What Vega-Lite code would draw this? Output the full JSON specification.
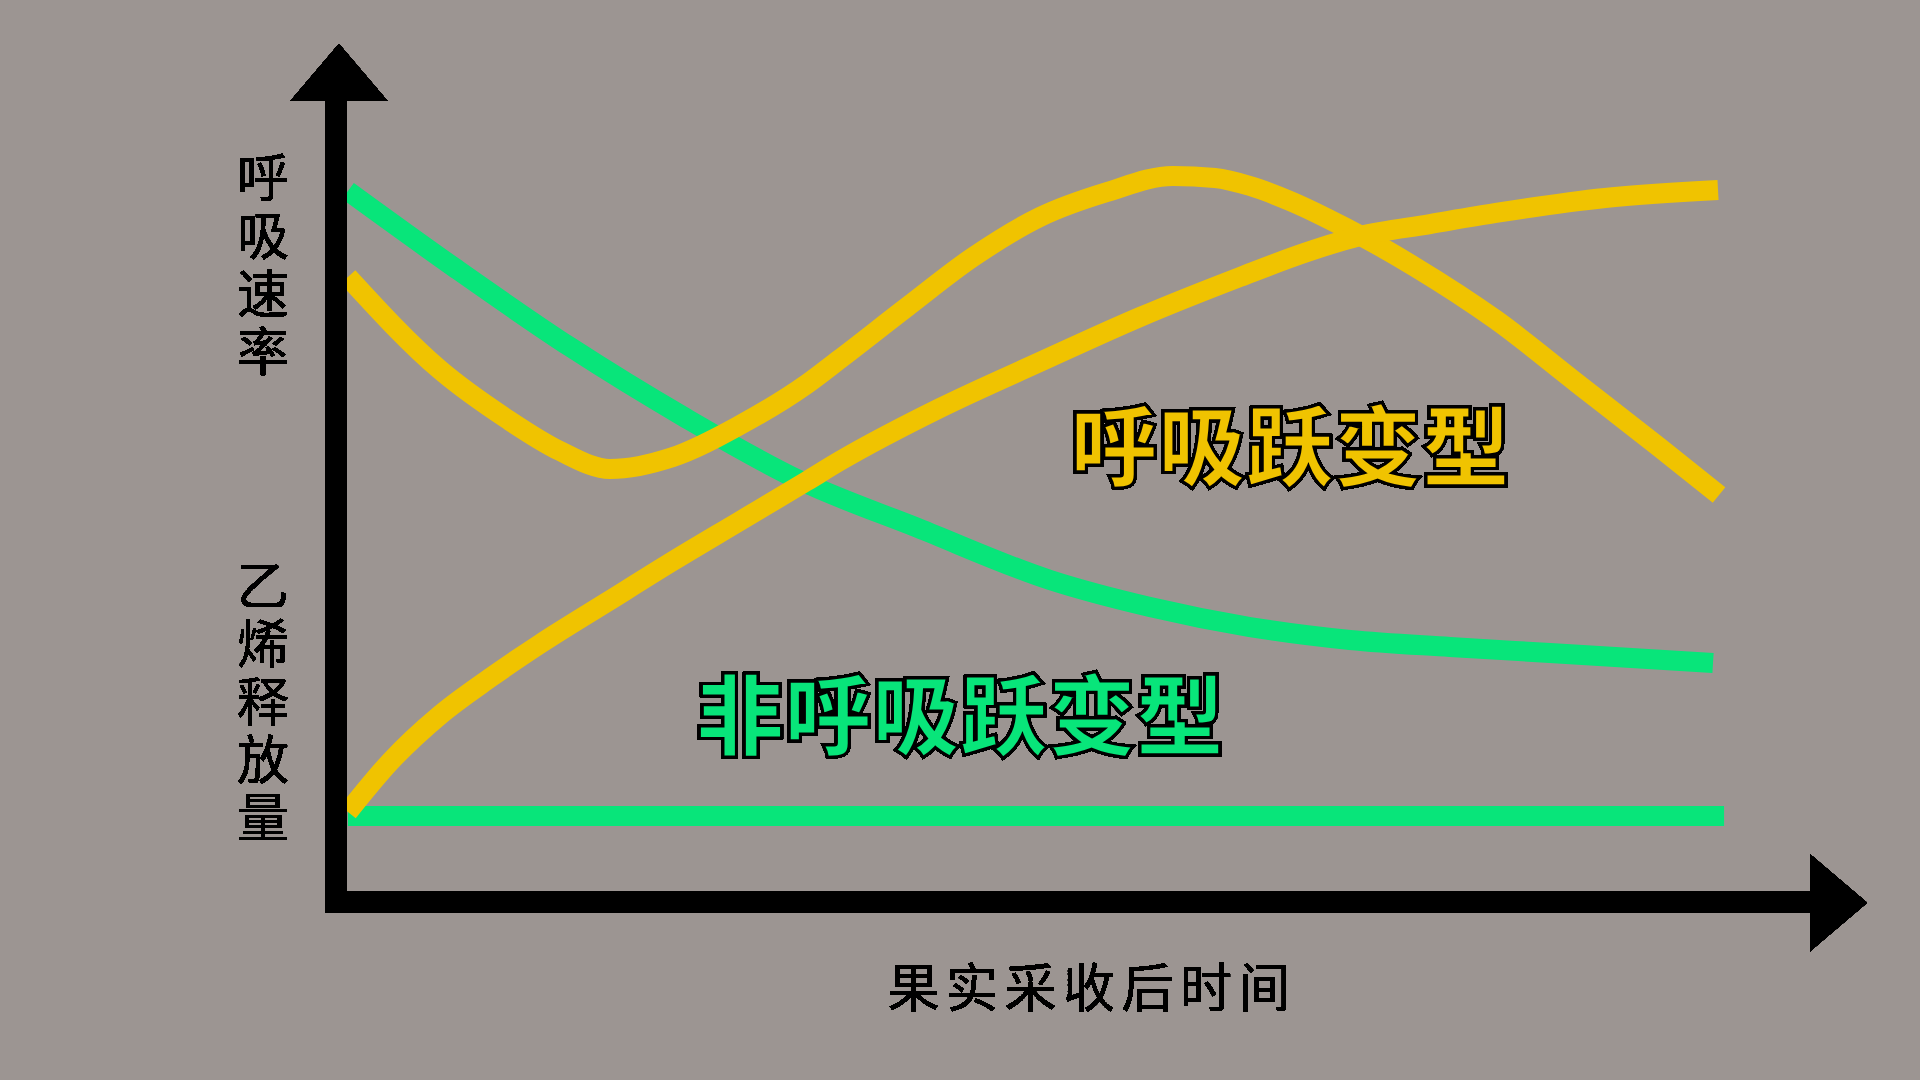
{
  "$schema": "https://vega.github.io/schema/vega-lite/v6.json",
  "width": 1474,
  "height": 801,
  "autosize": {"type": "none"},
  "padding": {"left": 336, "top": 101, "right": 110, "bottom": 178},
  "background": "#9c9592",
  "config": {
    "view": {"stroke": null},
    "font": "Noto Sans CJK SC"
  },
  "data": {
    "values": [
      {"curve": "respiration_non", "group": "non", "t": 0.81, "v": 88.76},
      {"curve": "respiration_non", "group": "non", "t": 8.07, "v": 79.15},
      {"curve": "respiration_non", "group": "non", "t": 15.88, "v": 69.29},
      {"curve": "respiration_non", "group": "non", "t": 23.61, "v": 60.55},
      {"curve": "respiration_non", "group": "non", "t": 31.41, "v": 52.68},
      {"curve": "respiration_non", "group": "non", "t": 39.48, "v": 46.69},
      {"curve": "respiration_non", "group": "non", "t": 48.44, "v": 40.2},
      {"curve": "respiration_non", "group": "non", "t": 55.22, "v": 36.83},
      {"curve": "respiration_non", "group": "non", "t": 62.01, "v": 34.33},
      {"curve": "respiration_non", "group": "non", "t": 68.79, "v": 32.71},
      {"curve": "respiration_non", "group": "non", "t": 75.58, "v": 31.84},
      {"curve": "respiration_non", "group": "non", "t": 82.36, "v": 31.09},
      {"curve": "respiration_non", "group": "non", "t": 93.42, "v": 29.84},
      {"curve": "ethylene_non", "group": "non", "t": 0.81, "v": 10.74},
      {"curve": "ethylene_non", "group": "non", "t": 94.17, "v": 10.74},
      {"curve": "respiration_cl", "group": "cl", "t": 0.81, "v": 78.03},
      {"curve": "respiration_cl", "group": "cl", "t": 7.06, "v": 66.42},
      {"curve": "respiration_cl", "group": "cl", "t": 11.6, "v": 60.3},
      {"curve": "respiration_cl", "group": "cl", "t": 15.2, "v": 56.3},
      {"curve": "respiration_cl", "group": "cl", "t": 18.59, "v": 54.06},
      {"curve": "respiration_cl", "group": "cl", "t": 22.86, "v": 55.56},
      {"curve": "respiration_cl", "group": "cl", "t": 27.41, "v": 59.55},
      {"curve": "respiration_cl", "group": "cl", "t": 31.95, "v": 64.67},
      {"curve": "respiration_cl", "group": "cl", "t": 34.19, "v": 67.79},
      {"curve": "respiration_cl", "group": "cl", "t": 38.74, "v": 74.28},
      {"curve": "respiration_cl", "group": "cl", "t": 43.22, "v": 80.52},
      {"curve": "respiration_cl", "group": "cl", "t": 47.76, "v": 85.52},
      {"curve": "respiration_cl", "group": "cl", "t": 52.31, "v": 88.64},
      {"curve": "respiration_cl", "group": "cl", "t": 56.78, "v": 90.64},
      {"curve": "respiration_cl", "group": "cl", "t": 59.63, "v": 90.39},
      {"curve": "respiration_cl", "group": "cl", "t": 62.01, "v": 89.39},
      {"curve": "respiration_cl", "group": "cl", "t": 64.72, "v": 87.52},
      {"curve": "respiration_cl", "group": "cl", "t": 68.39, "v": 84.27},
      {"curve": "respiration_cl", "group": "cl", "t": 73.2, "v": 79.28},
      {"curve": "respiration_cl", "group": "cl", "t": 78.7, "v": 72.66},
      {"curve": "respiration_cl", "group": "cl", "t": 84.19, "v": 64.79},
      {"curve": "respiration_cl", "group": "cl", "t": 89.76, "v": 56.8},
      {"curve": "respiration_cl", "group": "cl", "t": 93.83, "v": 50.81},
      {"curve": "ethylene_cl", "group": "cl", "t": 0.81, "v": 11.24},
      {"curve": "ethylene_cl", "group": "cl", "t": 3.66, "v": 17.48},
      {"curve": "ethylene_cl", "group": "cl", "t": 7.06, "v": 23.35},
      {"curve": "ethylene_cl", "group": "cl", "t": 10.45, "v": 27.97},
      {"curve": "ethylene_cl", "group": "cl", "t": 13.84, "v": 32.21},
      {"curve": "ethylene_cl", "group": "cl", "t": 18.39, "v": 37.45},
      {"curve": "ethylene_cl", "group": "cl", "t": 22.86, "v": 42.57},
      {"curve": "ethylene_cl", "group": "cl", "t": 27.41, "v": 47.57},
      {"curve": "ethylene_cl", "group": "cl", "t": 31.95, "v": 52.56},
      {"curve": "ethylene_cl", "group": "cl", "t": 34.19, "v": 55.06},
      {"curve": "ethylene_cl", "group": "cl", "t": 40.98, "v": 61.67},
      {"curve": "ethylene_cl", "group": "cl", "t": 47.76, "v": 67.42},
      {"curve": "ethylene_cl", "group": "cl", "t": 54.55, "v": 73.03},
      {"curve": "ethylene_cl", "group": "cl", "t": 61.33, "v": 78.03},
      {"curve": "ethylene_cl", "group": "cl", "t": 65.88, "v": 81.15},
      {"curve": "ethylene_cl", "group": "cl", "t": 69.47, "v": 83.15},
      {"curve": "ethylene_cl", "group": "cl", "t": 74.22, "v": 84.64},
      {"curve": "ethylene_cl", "group": "cl", "t": 78.7, "v": 86.02},
      {"curve": "ethylene_cl", "group": "cl", "t": 86.09, "v": 87.89},
      {"curve": "ethylene_cl", "group": "cl", "t": 93.76, "v": 88.89}
    ]
  },
  "layer": [
    {
      "transform": [{"filter": "datum.group == 'non'"}],
      "mark": {"type": "line", "interpolate": "monotone", "strokeWidth": 20, "color": "#08e57a"},
      "encoding": {
        "x": {"field": "t", "type": "quantitative", "scale": {"domain": [0, 100], "nice": false}, "axis": null},
        "y": {"field": "v", "type": "quantitative", "scale": {"domain": [0, 100], "nice": false}, "axis": null},
        "detail": {"field": "curve"}
      }
    },
    {
      "transform": [{"filter": "datum.group == 'cl'"}],
      "mark": {"type": "line", "interpolate": "monotone", "strokeWidth": 20, "color": "#f0c300"},
      "encoding": {
        "x": {"field": "t", "type": "quantitative", "axis": null},
        "y": {"field": "v", "type": "quantitative", "axis": null},
        "detail": {"field": "curve"}
      }
    },
    {
      "mark": {"type": "rule", "color": "black", "strokeWidth": 21, "strokeCap": "square"},
      "encoding": {
        "x": {"datum": 0, "type": "quantitative", "axis": null},
        "y": {"datum": 0, "type": "quantitative", "axis": null},
        "y2": {"datum": 100}
      }
    },
    {
      "mark": {"type": "rule", "color": "black", "strokeWidth": 21, "strokeCap": "square"},
      "encoding": {
        "x": {"datum": 0, "type": "quantitative", "axis": null},
        "x2": {"datum": 100},
        "y": {"datum": 0, "type": "quantitative", "axis": null}
      }
    },
    {
      "mark": {"type": "point", "shape": "M-1,0L1,0L0,-1.175Z", "size": 9409, "filled": true, "color": "black", "opacity": 1, "strokeWidth": 0},
      "encoding": {
        "x": {"datum": 0.2, "type": "quantitative", "axis": null},
        "y": {"datum": 100, "type": "quantitative", "axis": null}
      }
    },
    {
      "mark": {"type": "point", "shape": "M0,-1L0,1L1.175,0Z", "size": 9409, "filled": true, "color": "black", "opacity": 1, "strokeWidth": 0},
      "encoding": {
        "x": {"datum": 100, "type": "quantitative", "axis": null},
        "y": {"datum": -0.1, "type": "quantitative", "axis": null}
      }
    },
    {
      "mark": {"type": "text", "text": ["呼", "吸", "速", "率"], "font": "Noto Sans CJK SC", "fontSize": 52, "lineHeight": 58, "align": "center", "baseline": "top", "color": "black"},
      "encoding": {
        "x": {"datum": -4.95, "type": "quantitative", "axis": null},
        "y": {"datum": 93.13, "type": "quantitative", "axis": null}
      }
    },
    {
      "mark": {"type": "text", "text": ["乙", "烯", "释", "放", "量"], "font": "Noto Sans CJK SC", "fontSize": 52, "lineHeight": 58, "align": "center", "baseline": "top", "color": "black"},
      "encoding": {
        "x": {"datum": -4.95, "type": "quantitative", "axis": null},
        "y": {"datum": 42.2, "type": "quantitative", "axis": null}
      }
    },
    {
      "mark": {"type": "text", "text": "果\u200a\u200a实\u200a\u200a采\u200a\u200a收\u200a\u200a后\u200a\u200a时\u200a\u200a间", "font": "Noto Sans CJK SC", "fontSize": 52, "align": "center", "baseline": "middle", "color": "black"},
      "encoding": {
        "x": {"datum": 51.09, "type": "quantitative", "axis": null},
        "y": {"datum": -11.11, "type": "quantitative", "axis": null}
      }
    },
    {
      "mark": {"type": "text", "text": "呼吸跃变型", "font": "Noto Sans CJK SC", "fontWeight": 900, "fontSize": 88, "align": "center", "baseline": "middle", "fill": "#f0c300", "stroke": "black", "strokeWidth": 3},
      "encoding": {
        "x": {"datum": 64.72, "type": "quantitative", "axis": null},
        "y": {"datum": 56.05, "type": "quantitative", "axis": null}
      }
    },
    {
      "mark": {"type": "text", "text": "非呼吸跃变型", "font": "Noto Sans CJK SC", "fontWeight": 900, "fontSize": 88, "align": "center", "baseline": "middle", "fill": "#08e57a", "stroke": "black", "strokeWidth": 3},
      "encoding": {
        "x": {"datum": 42.33, "type": "quantitative", "axis": null},
        "y": {"datum": 22.47, "type": "quantitative", "axis": null}
      }
    }
  ]
}
